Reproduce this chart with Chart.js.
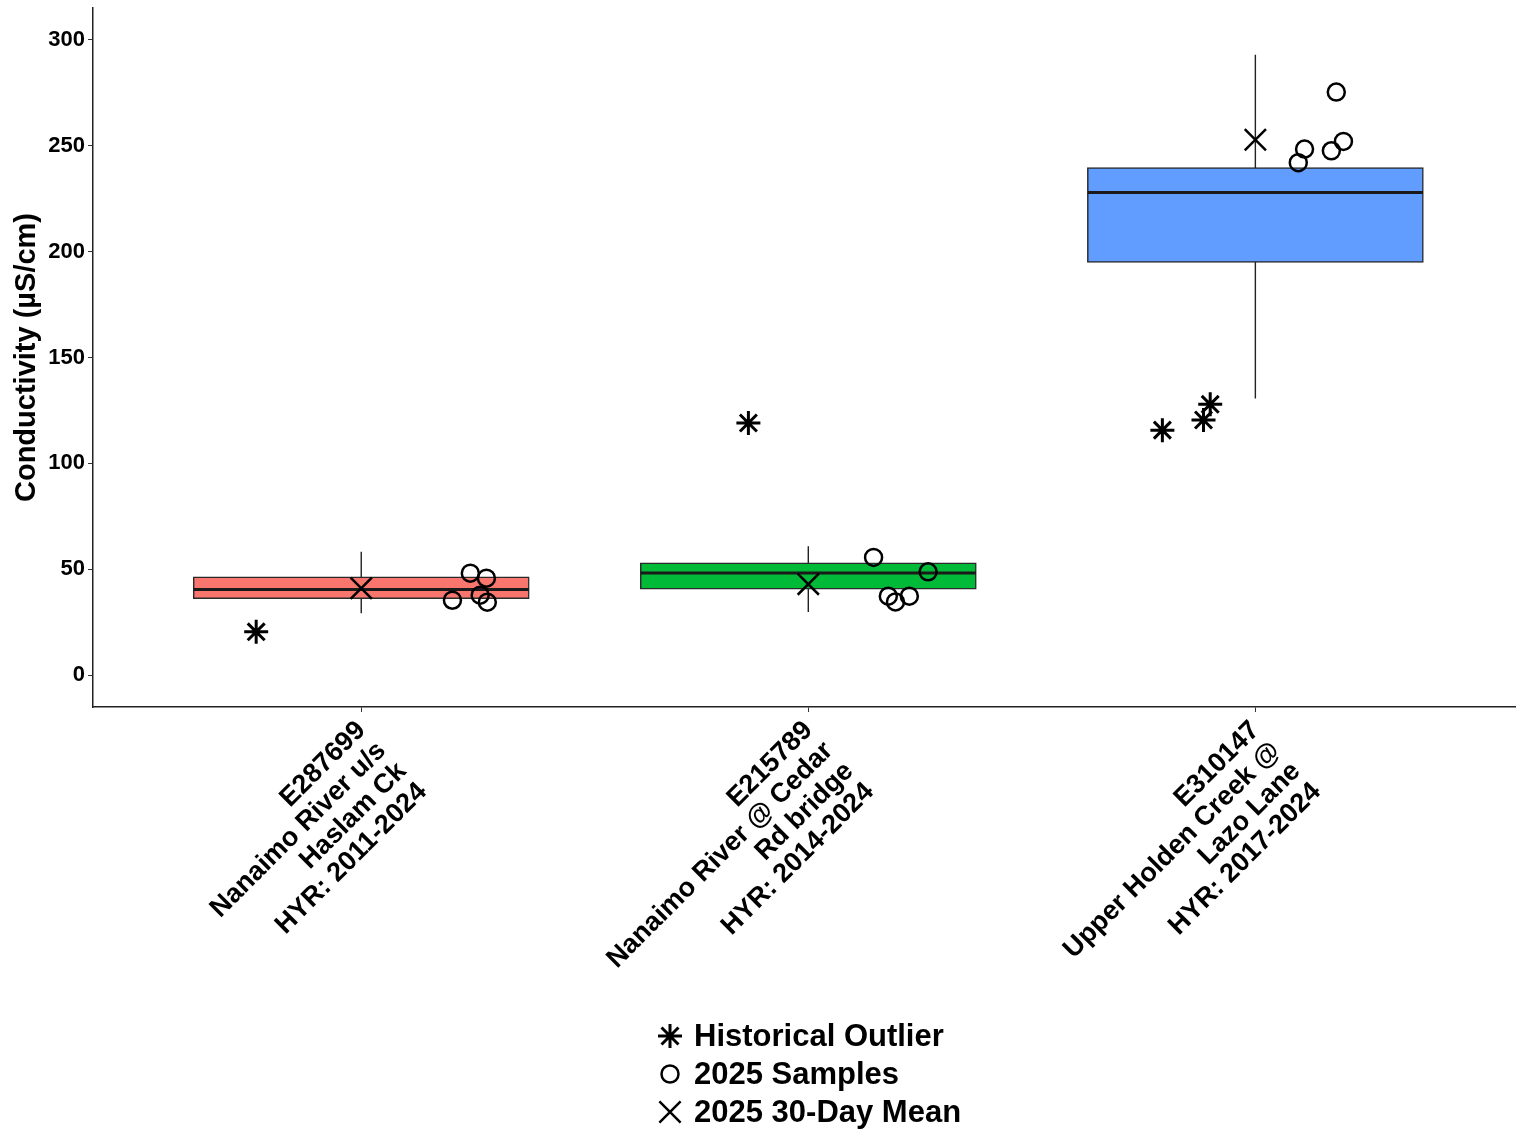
<!DOCTYPE html>
<html>
<head>
<meta charset="utf-8">
<script src="https://cdn.jsdelivr.net/npm/chart.js@4.4.1/dist/chart.umd.min.js"></script>
<style>
html, body { margin: 0; padding: 0; background: #fff; overflow: hidden; }
#wrap { width: 1516px; height: 1130px; position: relative; }
</style>
</head>
<body>
<div id="wrap"><canvas id="chart"></canvas></div>
<script>
// site labels (one array of lines per site)
var sites = [
    ['E287699', 'Nanaimo River u/s', 'Haslam Ck', 'HYR: 2011-2024'],
    ['E215789', 'Nanaimo River @ Cedar', 'Rd bridge', 'HYR: 2014-2024'],
    ['E310147', 'Upper Holden Creek @', 'Lazo Lane', 'HYR: 2017-2024']
];
// historical box stats
var q1 = [36.2, 40.6, 194.9];
var medians = [40.5, 48.3, 227.9];
var q3 = [46.4, 53.1, 239.7];
var whiskerLow = [29.3, 29.9, 130.7];
var whiskerHigh = [58.3, 60.9, 292.9];
// 2025 values
var means = [41.1, 43.0, 252.8];
var outliers = [[20.5], [119.1], [115.7, 120.5, 127.9]];
var outlierJitter = [[-0.235], [-0.134], [-0.208, -0.116, -0.101]];
var samples = [
    [48.2, 45.8, 35.4, 37.8, 34.5],
    [55.6, 48.8, 37.3, 34.6, 37.3],
    [275.3, 252.0, 247.6, 248.4, 242.0]
];
var sampleJitter = [
    [0.244, 0.280, 0.204, 0.266, 0.282],
    [0.146, 0.268, 0.179, 0.195, 0.226],
    [0.181, 0.197, 0.170, 0.110, 0.096]
];
var yTicks = [0, 50, 100, 150, 200, 250, 300];
var legendLabels = ['Historical Outlier', '2025 Samples', '2025 30-Day Mean'];

var boxColors = ['#F8766D', '#00BA38', '#619CFF'];
var FONT = '"Liberation Sans", Arial, sans-serif';
var halfBox = 0.375;

// build datasets from the arrays
var boxData = [], medianData = [], whiskerData = [], outlierData = [], sampleData = [], meanData = [];
for (var i = 0; i < sites.length; i++) {
    boxData.push({x: i, y: [q1[i], q3[i]]});
    medianData.push({x: i - halfBox, y: medians[i]}, {x: i + halfBox, y: medians[i]}, {x: i + halfBox, y: null});
    whiskerData.push({x: i, y: whiskerLow[i]}, {x: i, y: whiskerHigh[i]}, {x: i, y: null});
    meanData.push({x: i, y: means[i]});
    for (var j = 0; j < outliers[i].length; j++) {
        outlierData.push({x: i + outlierJitter[i][j], y: outliers[i][j]});
    }
    for (var k = 0; k < samples[i].length; k++) {
        sampleData.push({x: i + sampleJitter[i][k], y: samples[i][k]});
    }
}

var legendPlugin = {
    id: 'symbolLegend',
    afterDraw: function(chart) {
        var ctx = chart.ctx;
        var styles = [
            {pointStyle: 'star', radius: 12, borderWidth: 3},
            {pointStyle: 'circle', radius: 8.5, borderWidth: 2.5},
            {pointStyle: 'crossRot', radius: 15, borderWidth: 2.5}
        ];
        ctx.save();
        ctx.font = 'bold 31px ' + FONT;
        ctx.textBaseline = 'middle';
        for (var n = 0; n < legendLabels.length; n++) {
            var y = 1036 + n * 38;
            ctx.strokeStyle = '#000';
            ctx.fillStyle = 'rgba(0,0,0,0)';
            ctx.lineWidth = styles[n].borderWidth;
            Chart.helpers.drawPoint(ctx, styles[n], 670, y);
            ctx.fillStyle = '#000';
            ctx.fillText(legendLabels[n], 694, y + 1);
        }
        ctx.restore();
    }
};

var ctx = document.getElementById('chart').getContext('2d');
var chart = new Chart(ctx, {
    type: 'bar',
    data: {
        datasets: [
            {
                type: 'line', data: whiskerData, order: 5,
                borderColor: '#222', borderWidth: 1.4, pointRadius: 0, spanGaps: false
            },
            {
                type: 'bar', data: boxData, order: 4,
                backgroundColor: boxColors, borderColor: '#2a2a2a', borderWidth: 1.5,
                borderSkipped: false, barThickness: 336
            },
            {
                type: 'line', data: medianData, order: 3,
                borderColor: '#1a1a1a', borderWidth: 3, pointRadius: 0, spanGaps: false
            },
            {
                type: 'scatter', data: outlierData, order: 2,
                pointStyle: 'star', pointRadius: 12, borderColor: '#000', borderWidth: 3
            },
            {
                type: 'scatter', data: meanData, order: 1,
                pointStyle: 'crossRot', pointRadius: 15, borderColor: '#000', borderWidth: 2.5
            },
            {
                type: 'scatter', data: sampleData, order: 0,
                pointStyle: 'circle', pointRadius: 8.5, borderColor: '#000', borderWidth: 2.5,
                backgroundColor: 'rgba(0,0,0,0)'
            }
        ]
    },
    options: {
        responsive: true,
        maintainAspectRatio: false,
        animation: false,
        layout: { autoPadding: false, padding: { top: 8, left: 0, right: 0, bottom: 0 } },
        plugins: { legend: { display: false }, tooltip: { enabled: false } },
        scales: {
            x: {
                type: 'linear', min: -0.6, max: 2.583, offset: false,
                afterBuildTicks: function(scale) {
                    scale.ticks = sites.map(function(s, idx) { return {value: idx}; });
                },
                afterFit: function(scale) {
                    scale.height = 423;
                    scale.paddingLeft = 0;
                    scale.paddingRight = 0;
                },
                grid: { display: true, offset: false, drawOnChartArea: false, drawTicks: true, tickLength: 5, color: '#333' },
                border: { display: true, color: '#222', width: 1.5 },
                ticks: {
                    autoSkip: false, minRotation: 45, maxRotation: 45, padding: 4,
                    color: '#000', font: { family: FONT, size: 27, weight: 'bold', lineHeight: 1.07 },
                    callback: function(v) { return sites[v]; }
                }
            },
            y: {
                min: -15, max: 315,
                afterBuildTicks: function(scale) {
                    scale.ticks = yTicks.map(function(v) { return {value: v}; });
                },
                afterFit: function(scale) {
                    scale.width = 93;
                    scale.paddingTop = 0;
                    scale.paddingBottom = 0;
                },
                grid: { display: true, drawOnChartArea: false, drawTicks: true, tickLength: 5, color: '#333' },
                border: { display: true, color: '#222', width: 1.5 },
                ticks: { color: '#000', padding: 3, font: { family: FONT, size: 22, weight: 'bold' } },
                title: {
                    display: true, text: 'Conductivity (µS/cm)', color: '#000',
                    font: { family: FONT, size: 29, weight: 'bold' },
                    padding: { top: 10, bottom: 0 }
                }
            }
        }
    },
    plugins: [legendPlugin]
});
</script>
</body>
</html>
